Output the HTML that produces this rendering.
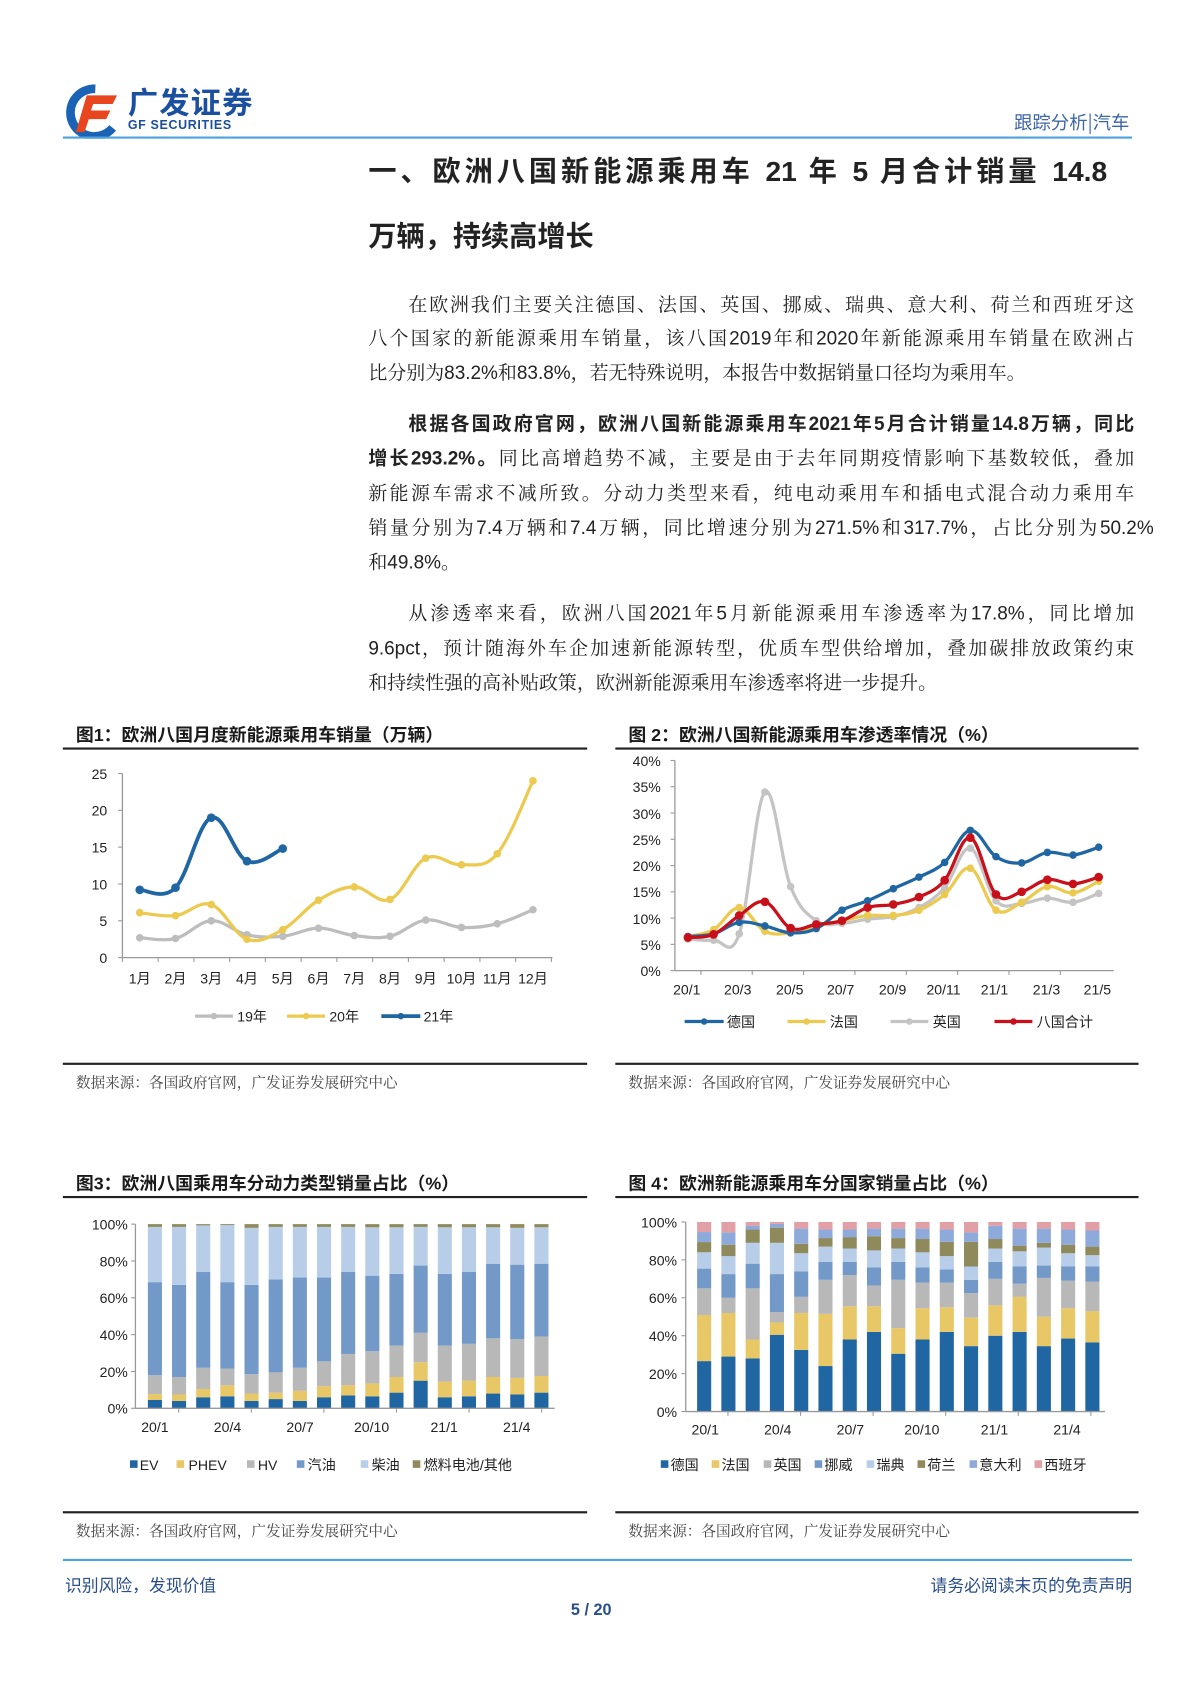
<!DOCTYPE html>
<html><head><meta charset="utf-8">
<style>
html,body{margin:0;padding:0;background:#fff;width:1200px;height:1698px;overflow:hidden}
#p{position:absolute;left:0;top:0;width:1108px;height:1567px;transform:scale(1.0833);transform-origin:0 0;font-family:"Liberation Sans","Noto Serif CJK SC",serif;color:#222}
.a{position:absolute;white-space:nowrap}
.ln{position:absolute;left:340px;width:707px;font-size:17.5px;height:22px;line-height:22px;text-align:justify;text-align-last:justify;font-family:"Liberation Sans","Noto Serif CJK SC",serif}
.ind{padding-left:37px;width:670px}
.b{font-weight:bold;font-family:"Liberation Sans","Noto Sans CJK SC",sans-serif}
.ft{position:absolute;font-size:16.5px;font-weight:bold;font-family:"Liberation Sans","Noto Sans CJK SC",sans-serif;color:#1a1a1a;white-space:nowrap}
.hr{position:absolute;height:2px;background:#222}
.src{position:absolute;font-size:13.5px;color:#444;font-family:"Noto Serif CJK SC",serif;white-space:nowrap}
svg text{font-family:"Liberation Sans","Noto Sans CJK SC",sans-serif;font-size:13px;fill:#222}
</style></head><body>
<div id="p">
<svg class="a" style="left:58px;top:76px" width="60" height="52" viewBox="0 0 60 52">
<path d="M30 6 A22 22 0 1 0 46 42" fill="none" stroke="#1b63b5" stroke-width="8"/>
<path d="M22 12 L50 12 L46 20 L28 20 L26 26 L44 26 L40 34 L24 34 L20 46 L12 46 Z" fill="#e8461e"/>
</svg>
<div class="a" style="left:118px;top:78px;font-size:28px;font-weight:bold;color:#1b4fa0;font-family:'Noto Sans CJK SC',sans-serif;letter-spacing:1px;line-height:32px">广发证券</div>
<div class="a" style="left:118px;top:110px;font-size:11.5px;font-weight:bold;color:#1b4fa0;letter-spacing:0.6px">GF SECURITIES</div>
<div class="a" style="left:58px;top:126px;width:987px;height:2px;background:#4fa3dc"></div>
<div class="a" style="left:936px;top:99px;font-size:17px;color:#3e67a8;font-family:'Noto Sans CJK SC',sans-serif">跟踪分析|汽车</div>

<div class="a b" style="left:340px;top:142px;width:682px;font-size:26px;line-height:32px;text-align:justify;text-align-last:justify">一、欧洲八国新能源乘用车 21 年 5 月合计销量 14.8</div>
<div class="a b" style="left:340px;top:202px;font-size:26px;line-height:32px">万辆，持续高增长</div>

<div class="ln ind" style="top:270px">在欧洲我们主要关注德国、法国、英国、挪威、瑞典、意大利、荷兰和西班牙这</div>
<div class="ln" style="top:301px">八个国家的新能源乘用车销量，该八国2019年和2020年新能源乘用车销量在欧洲占</div>
<div class="ln" style="top:333px;text-align-last:left;width:auto">比分别为83.2%和83.8%，若无特殊说明，本报告中数据销量口径均为乘用车。</div>

<div class="ln ind b" style="top:380px">根据各国政府官网，欧洲八国新能源乘用车2021年5月合计销量14.8万辆，同比</div>
<div class="ln" style="top:412px"><span class="b">增长293.2%。</span>同比高增趋势不减，主要是由于去年同期疫情影响下基数较低，叠加</div>
<div class="ln" style="top:444px">新能源车需求不减所致。分动力类型来看，纯电动乘用车和插电式混合动力乘用车</div>
<div class="ln" style="top:476px;width:725px">销量分别为7.4万辆和7.4万辆，同比增速分别为271.5%和317.7%，占比分别为50.2%</div>
<div class="ln" style="top:508px;text-align-last:left;width:auto">和49.8%。</div>

<div class="ln ind" style="top:555px">从渗透率来看，欧洲八国2021年5月新能源乘用车渗透率为17.8%，同比增加</div>
<div class="ln" style="top:587px">9.6pct，预计随海外车企加速新能源转型，优质车型供给增加，叠加碳排放政策约束</div>
<div class="ln" style="top:619px;text-align-last:left;width:auto">和持续性强的高补贴政策，欧洲新能源乘用车渗透率将进一步提升。</div>

<div class="ft" style="left:70px;top:665px">图1：欧洲八国月度新能源乘用车销量（万辆）</div>
<div class="ft" style="left:580px;top:665px">图 2：欧洲八国新能源乘用车渗透率情况（%）</div>
<div class="hr" style="left:58px;top:690px;width:484px"></div>
<div class="hr" style="left:568px;top:690px;width:483px"></div>
<div class="hr" style="left:58px;top:981px;width:484px;height:1.5px"></div>
<div class="hr" style="left:568px;top:981px;width:483px;height:1.5px"></div>
<div class="src" style="left:70px;top:988px">数据来源：各国政府官网，广发证券发展研究中心</div>
<div class="src" style="left:580px;top:988px">数据来源：各国政府官网，广发证券发展研究中心</div>

<div class="ft" style="left:70px;top:1079px">图3：欧洲八国乘用车分动力类型销量占比（%）</div>
<div class="ft" style="left:580px;top:1079px">图 4：欧洲新能源乘用车分国家销量占比（%）</div>
<div class="hr" style="left:58px;top:1104px;width:484px"></div>
<div class="hr" style="left:568px;top:1104px;width:483px"></div>
<div class="hr" style="left:58px;top:1395px;width:484px;height:1.5px"></div>
<div class="hr" style="left:568px;top:1395px;width:483px;height:1.5px"></div>
<div class="src" style="left:70px;top:1402px">数据来源：各国政府官网，广发证券发展研究中心</div>
<div class="src" style="left:580px;top:1402px">数据来源：各国政府官网，广发证券发展研究中心</div>

<div class="a" style="left:58px;top:1439px;width:987px;height:2px;background:#4fa3dc"></div>
<div class="a" style="left:60px;top:1452px;font-size:15.5px;color:#2a4e8a;font-family:'Noto Sans CJK SC',sans-serif">识别风险，发现价值</div>
<div class="a" style="left:859px;top:1452px;font-size:15.5px;color:#2a4e8a;font-family:'Noto Sans CJK SC',sans-serif">请务必阅读末页的免责声明</div>
<div class="a" style="left:527px;top:1478px;font-size:15px;font-weight:bold;color:#2a4e8a">5 / 20</div>

<svg id="s" class="a" style="left:0;top:0" width="1108" height="1567">
<g id="g"></g>
<g text-anchor="end">
<text x="99" y="719">25</text><text x="99" y="753">20</text><text x="99" y="787">15</text><text x="99" y="821">10</text><text x="99" y="855">5</text><text x="99" y="889">0</text>
</g>
<g text-anchor="middle">
<text x="129" y="908">1月</text><text x="162" y="908">2月</text><text x="195" y="908">3月</text><text x="228" y="908">4月</text><text x="261" y="908">5月</text><text x="294" y="908">6月</text><text x="327" y="908">7月</text><text x="360" y="908">8月</text><text x="393" y="908">9月</text><text x="426" y="908">10月</text><text x="459" y="908">11月</text><text x="492" y="908">12月</text>
</g>
<text x="219" y="943">19年</text><text x="304" y="943">20年</text><text x="391" y="943">21年</text>
<g text-anchor="end">
<text x="610" y="707">40%</text><text x="610" y="731">35%</text><text x="610" y="756">30%</text><text x="610" y="780">25%</text><text x="610" y="804">20%</text><text x="610" y="828">15%</text><text x="610" y="853">10%</text><text x="610" y="877">5%</text><text x="610" y="901">0%</text>
</g>
<g text-anchor="middle">
<text x="634" y="918">20/1</text><text x="681" y="918">20/3</text><text x="729" y="918">20/5</text><text x="776" y="918">20/7</text><text x="824" y="918">20/9</text><text x="871" y="918">20/11</text><text x="918" y="918">21/1</text><text x="966" y="918">21/3</text><text x="1013" y="918">21/5</text>
</g>
<text x="671" y="948">德国</text><text x="766" y="948">法国</text><text x="861" y="948">英国</text><text x="957" y="948">八国合计</text>
<g text-anchor="end">
<text x="118" y="1135">100%</text><text x="118" y="1169">80%</text><text x="118" y="1203">60%</text><text x="118" y="1237">40%</text><text x="118" y="1271">20%</text><text x="118" y="1305">0%</text>
</g>
<g text-anchor="middle">
<text x="143" y="1322">20/1</text><text x="210" y="1322">20/4</text><text x="277" y="1322">20/7</text><text x="343" y="1322">20/10</text><text x="410" y="1322">21/1</text><text x="477" y="1322">21/4</text>
</g>
<text x="129" y="1357">EV</text><text x="174" y="1357">PHEV</text><text x="238" y="1357">HV</text><text x="284" y="1357">汽油</text><text x="343" y="1357">柴油</text><text x="391" y="1357">燃料电池/其他</text>
<g text-anchor="end">
<text x="625" y="1133">100%</text><text x="625" y="1168">80%</text><text x="625" y="1203">60%</text><text x="625" y="1238">40%</text><text x="625" y="1273">20%</text><text x="625" y="1308">0%</text>
</g>
<g text-anchor="middle">
<text x="651" y="1324">20/1</text><text x="718" y="1324">20/4</text><text x="785" y="1324">20/7</text><text x="851" y="1324">20/10</text><text x="918" y="1324">21/1</text><text x="985" y="1324">21/4</text>
</g>
<text x="619" y="1357">德国</text><text x="666" y="1357">法国</text><text x="714" y="1357">英国</text><text x="761" y="1357">挪威</text><text x="809" y="1357">瑞典</text><text x="856" y="1357">荷兰</text><text x="904" y="1357">意大利</text><text x="964" y="1357">西班牙</text>
</svg>
</div>
<script>
var g=document.getElementById('g'),NS='http://www.w3.org/2000/svg';
function el(t,a){var e=document.createElementNS(NS,t);for(var k in a)e.setAttribute(k,a[k]);g.appendChild(e);return e;}
function smooth(p){var d='M'+p[0][0]+' '+p[0][1];for(var i=0;i<p.length-1;i++){var p0=p[i-1]||p[i],p1=p[i],p2=p[i+1],p3=p[i+2]||p2;var t=0.18;d+=' C'+(p1[0]+(p2[0]-p0[0])*t)+' '+(p1[1]+(p2[1]-p0[1])*t)+' '+(p2[0]-(p3[0]-p1[0])*t)+' '+(p2[1]-(p3[1]-p1[1])*t)+' '+p2[0]+' '+p2[1];}return d;}
function series(pts,c,w,r){el('path',{d:smooth(pts),fill:'none',stroke:c,'stroke-width':w,'stroke-linejoin':'round'});pts.forEach(function(q){el('circle',{cx:q[0],cy:q[1],r:r,fill:c});});}
function leg(x1,x2,y,c,w){el('line',{x1:x1,y1:y,x2:x2,y2:y,stroke:c,'stroke-width':w});el('circle',{cx:(x1+x2)/2,cy:y,r:3,fill:c});}
el('line',{x1:113,y1:714,x2:113,y2:884,stroke:'#999','stroke-width':1.2});
el('line',{x1:113,y1:884,x2:510,y2:884,stroke:'#999','stroke-width':1.2});
for(var i=0;i<6;i++)el('line',{x1:109,y1:714+34*i,x2:113,y2:714+34*i,stroke:'#999'});
for(var i=0;i<=12;i++)el('line',{x1:113+33*i,y1:884,x2:113+33*i,y2:888,stroke:'#999'});
var d19=[2.7,2.6,5.0,3.1,2.9,4.0,3.0,2.9,5.1,4.1,4.6,6.5],d20=[6.1,5.7,7.2,2.5,3.8,7.8,9.6,7.9,13.5,12.6,14.1,24.0],d21=[9.2,9.5,19.0,13.1,14.8];
function p1(d){return d.map(function(v,i){return [129+33*i,884-6.8*v];});}
series(p1(d19),'#bdbdbd',3,3.5);series(p1(d20),'#ecc94f',3,3.5);series(p1(d21),'#1f66a3',3.5,4);
leg(180,215,938,'#bdbdbd',3);leg(265,300,938,'#ecc94f',3);leg(352,388,938,'#1f66a3',3.5);
el('line',{x1:623,y1:702,x2:623,y2:896,stroke:'#999','stroke-width':1.2});
el('line',{x1:623,y1:896,x2:1028,y2:896,stroke:'#999','stroke-width':1.2});
for(var i=0;i<9;i++)el('line',{x1:619,y1:702+24.25*i,x2:623,y2:702+24.25*i,stroke:'#999'});
for(var i=0;i<8;i++)el('line',{x1:647+47.4*i,y1:896,x2:647+47.4*i,y2:900,stroke:'#999'});
var de=[6.5,7,9.2,8.5,7.2,8,11.5,13.3,15.6,17.8,20.6,26.7,21.7,20.5,22.5,22,23.5],
fr=[6.5,7.8,12,7.5,7.2,8.5,9.5,10.5,10.5,11.5,14.5,19.5,11.5,13,16,14.8,17],
uk=[6,5.8,7,34,16,9.5,9,9.8,10.3,12,15.8,23.3,13.3,12.8,13.8,13,14.7],
to=[6.3,6.9,10.5,13.1,8.1,8.8,9.5,12,12.6,14,17.2,25.3,14.5,15,17.3,16.5,17.8];
function p2(d){return d.map(function(v,i){return [635+23.7*i,896-4.85*v];});}
series(p2(uk),'#c4c4c4',3,3.5);series(p2(fr),'#ecc94f',3,3.5);series(p2(de),'#1f66a3',3,3.5);series(p2(to),'#c8101a',3,4);
leg(632,668,943,'#1f66a3',3);leg(727,762,943,'#ecc94f',3);leg(822,857,943,'#c4c4c4',3);leg(918,953,943,'#c8101a',3);
var c3=['#1f66a3','#e8c766','#b8b8b8','#7399c8','#b8cde8','#8f8a5c'];
var b3=[[4.5,7.7,18,68.5,98.5],[4,7.5,17,67,98.5],[6,10.5,22,74,99.3],[6.5,12.5,21.5,68.5,99.5],[4,8,18.5,67,98],[5,8.5,19.5,70,98.5],[4,9.5,22,71,98.5],[6,12,25.5,71,98.5],[7,12.5,29.5,74,98.5],[6.5,13.5,31,72,98.3],[8.5,17,34,73,98.3],[15,25,41,77.5,98.5],[6,14.5,34,73,98.3],[6.5,15,35,74,98.3],[8,17,38,78.5,98.3],[7.5,16.5,37.5,78,98],[8.5,17.5,39,78.5,98.3]];
function bars(data,cols,x0,dx,y0,k,w){data.forEach(function(b,i){var v=[0].concat(b).concat([100]);for(var j=0;j<cols.length;j++){var t=y0-k*v[j+1],bt=y0-k*v[j];el('rect',{x:x0+dx*i-w/2,y:t,width:w,height:Math.max(0,bt-t),fill:cols[j]});}});}
bars(b3,c3,143,22.3,1300,1.7,13);
el('line',{x1:125,y1:1130,x2:125,y2:1300,stroke:'#999','stroke-width':1.2});
el('line',{x1:125,y1:1300,x2:512,y2:1300,stroke:'#999','stroke-width':1.2});
for(var i=0;i<6;i++)el('line',{x1:121,y1:1130+34*i,x2:125,y2:1130+34*i,stroke:'#999'});
for(var i=0;i<6;i++)el('line',{x1:165+67*i,y1:1300,x2:165+67*i,y2:1304,stroke:'#999'});
[120,163,228,274,333,381].forEach(function(x,i){el('rect',{x:x,y:1348,width:7,height:7,fill:c3[i]});});
var c4=['#1f66a3','#e8c766','#b8b8b8','#7399c8','#b8cde8','#8f8a5c','#8eaadb','#e0a0a5'];
var b4=[[26.6,50.9,65,75.4,84,89.4,94.7],[29,52,60,72.5,82,88,94.5],[28,38,65,78,89,96,98],[40.5,47,52.5,72.5,89,97,99],[32.5,52,60.5,74,83.5,88.5,96.5],[24,51.5,69.5,79,87,91.5,96],[38,55.5,72,79,86,92,96],[42,55.5,66.5,76,85,92.5,96.5],[30.5,44,69.5,79,86,91.5,96.5],[38,54.5,68,76,84,91,96.5],[42,55,68,75,82,89.5,96],[34.5,49.5,62.5,69.5,76.5,89.5,94.5],[40,56,70,79,86,91,98],[42,60.5,67.5,76.5,84.5,87.5,96.5],[34.5,50,70.5,77,86.5,89,96.5],[38.5,54.5,69,76.5,83.5,88,96],[36.5,53,68.5,76.5,82.5,87,95.5]];
bars(b4,c4,650,22.4,1303,1.75,13);
el('line',{x1:633,y1:1128,x2:633,y2:1303,stroke:'#999','stroke-width':1.2});
el('line',{x1:633,y1:1303,x2:1020,y2:1303,stroke:'#999','stroke-width':1.2});
for(var i=0;i<6;i++)el('line',{x1:629,y1:1128+35*i,x2:633,y2:1128+35*i,stroke:'#999'});
for(var i=0;i<6;i++)el('line',{x1:672+67*i,y1:1303,x2:672+67*i,y2:1307,stroke:'#999'});
[610,657,705,752,800,847,895,955].forEach(function(x,i){el('rect',{x:x,y:1348,width:7,height:7,fill:c4[i]});});
</script>
</body></html>
